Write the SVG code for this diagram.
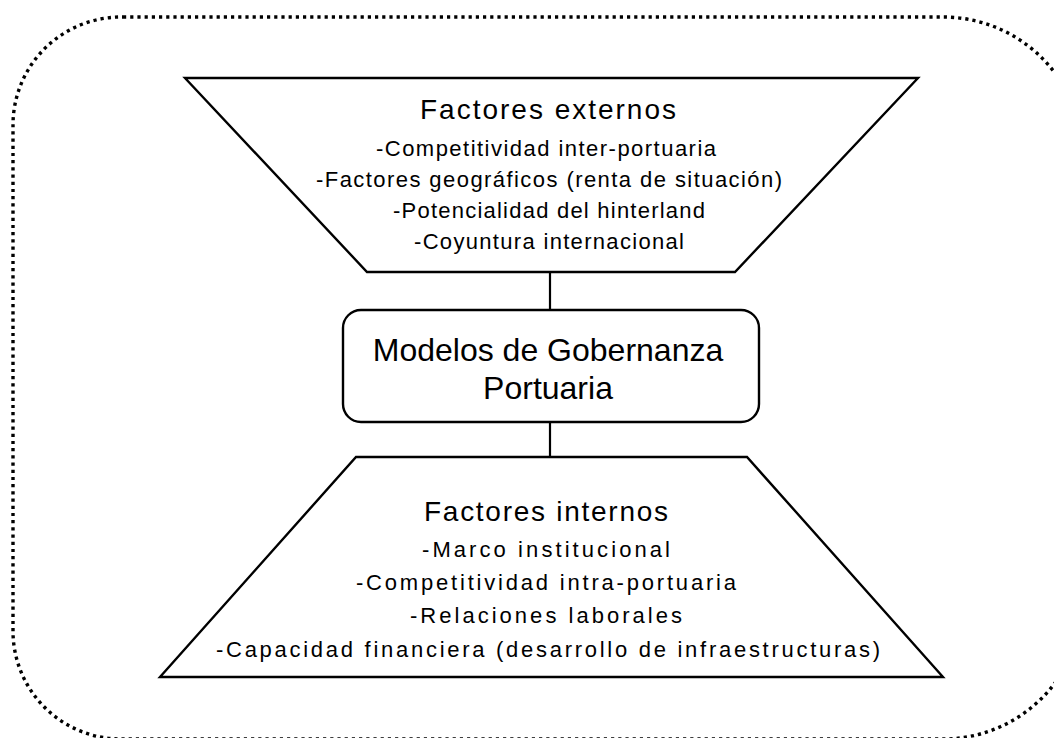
<svg xmlns="http://www.w3.org/2000/svg" width="1054" height="738" viewBox="0 0 1054 738">
<style>
.frame{fill:none;stroke:#000;stroke-width:3.4;stroke-dasharray:3.2 4}
.shape{fill:#fff;stroke:#000;stroke-width:2.4;stroke-linejoin:miter}
.conn{stroke:#000;stroke-width:2.2;fill:none}
text{font-family:"Liberation Sans",Arial,sans-serif;fill:#000;text-anchor:middle}
.title{font-size:28px}
.item{font-size:22px}
.main{font-size:32px}
</style>
<rect width="1054" height="738" fill="#fff"/>
<path class="frame" d="M123,17 H943 A140,140 0 0 1 1083,157 V599 A140,140 0 0 1 943,739 H121 A108,108 0 0 1 13,631 V125 A108,108 0 0 1 121,17 Z"/>
<g id="connectors">
<line class="conn" x1="550" y1="272" x2="550" y2="310"/>
<line class="conn" x1="550" y1="422" x2="550" y2="457"/>
</g>
<g id="externos">
<polygon class="shape" points="185,78 918,78 735,272 367,272"/>
<text class="title" x="548" y="119" textLength="256" lengthAdjust="spacing">Factores externos</text>
<text class="item" x="546" y="156" textLength="340" lengthAdjust="spacing">-Competitividad inter-portuaria</text>
<text class="item" x="549" y="187" textLength="466" lengthAdjust="spacing">-Factores geográficos (renta de situación)</text>
<text class="item" x="549" y="218" textLength="312" lengthAdjust="spacing">-Potencialidad del hinterland</text>
<text class="item" x="549" y="249" textLength="270" lengthAdjust="spacing">-Coyuntura internacional</text>
</g>
<g id="modelos">
<rect class="shape" x="343" y="310" width="416" height="112" rx="18" ry="18"/>
<text class="main" x="548" y="361">Modelos de Gobernanza</text>
<text class="main" x="548" y="399">Portuaria</text>
</g>
<g id="internos">
<polygon class="shape" points="356,457 747,457 943,677 160,677"/>
<text class="title" x="546" y="521" textLength="244" lengthAdjust="spacing">Factores internos</text>
<text class="item" x="546" y="557" textLength="248" lengthAdjust="spacing">-Marco institucional</text>
<text class="item" x="546" y="590" textLength="380" lengthAdjust="spacing">-Competitividad intra-portuaria</text>
<text class="item" x="546" y="623" textLength="272" lengthAdjust="spacing">-Relaciones laborales</text>
<text class="item" x="548" y="657" textLength="664" lengthAdjust="spacing">-Capacidad financiera (desarrollo de infraestructuras)</text>
</g>
</svg>
